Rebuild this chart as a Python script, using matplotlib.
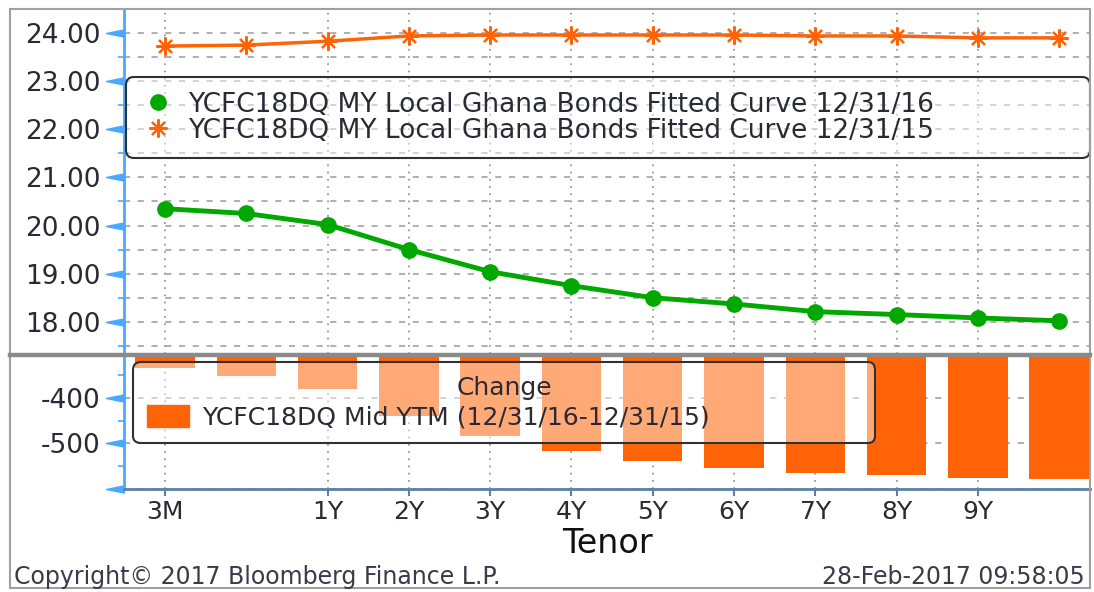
import numpy as np
import matplotlib.pyplot as plt
from matplotlib.lines import Line2D
from matplotlib.patches import Rectangle, Patch
from matplotlib.path import Path
from matplotlib.ticker import MultipleLocator, FixedLocator

# === Data ===
tenors = ['3M', '6M', '1Y', '2Y', '3Y', '4Y', '5Y', '6Y', '7Y', '8Y', '9Y', '10Y']
shown_labels = ['3M', '1Y', '2Y', '3Y', '4Y', '5Y', '6Y', '7Y', '8Y', '9Y']
curve_2016 = [20.35, 20.25, 20.02, 19.50, 19.04, 18.75, 18.50, 18.37, 18.21, 18.15, 18.08, 18.02]
curve_2015 = [23.73, 23.75, 23.83, 23.94, 23.96, 23.96, 23.96, 23.96, 23.94, 23.94, 23.90, 23.90]
change_bp = [-335, -351, -380, -440, -484, -517, -538, -553, -565, -569, -575, -578]

label_2016 = 'YCFC18DQ MY Local Ghana Bonds Fitted Curve 12/31/16'
label_2015 = 'YCFC18DQ MY Local Ghana Bonds Fitted Curve 12/31/15'
label_change = 'YCFC18DQ Mid YTM (12/31/16-12/31/15)'

# === Style ===
W, H = 1094, 592
GREEN = '#00a800'
ORANGE = '#ff6308'
BLUE = '#4aa8ff'
SLATE = '#5b7fa8'
GRID = '#9a9a9a'
TXT = '#2a2a36'
plt.rcParams['font.family'] = 'DejaVu Sans'

# long left-pointing triangle, base sitting on the spine
tri = Path([(0, -0.2), (-1, 0), (0, 0.2), (0, -0.2)],
           [Path.MOVETO, Path.LINETO, Path.LINETO, Path.CLOSEPOLY])


def px(x0, y0, w, h):
    # pixel box (from top-left) -> figure fraction rect
    return [x0 / W, 1 - (y0 + h) / H, w / W, h / H]


def style_yaxis(ax):
    for side in ['top', 'right', 'bottom']:
        ax.spines[side].set_visible(False)
    ax.spines['left'].set_color(BLUE)
    ax.spines['left'].set_linewidth(2)
    ax.tick_params(axis='y', which='major', length=13, width=1, pad=4,
                   colors=BLUE, labelcolor=TXT, labelsize=19)
    ax.tick_params(axis='y', which='minor', length=4, width=1.2, colors=BLUE)
    for t in ax.yaxis.get_major_ticks():
        t.tick1line.set_marker(tri)
        t.tick1line.set_markersize(26)
        t.tick1line.set_markerfacecolor(BLUE)
        t.tick1line.set_markeredgecolor(BLUE)


fig = plt.figure(figsize=(W / 100, H / 100), dpi=100)
x = np.arange(len(tenors))
xlim = (-0.505, 11.38)
xt = [tenors.index(t) for t in shown_labels]

# === Top panel: fitted curves ===
ax1 = fig.add_axes(px(124, 9, 966, 345))
ax1.plot(x, curve_2015, color=ORANGE, lw=2.5, marker=(8, 2, 0), ms=13, mew=1.6, zorder=3)
ax1.plot(x, curve_2016, color=GREEN, lw=3.5, marker='o', ms=11, zorder=3)
ax1.set_xlim(*xlim)
ax1.set_ylim(17.33, 24.5)
ax1.yaxis.set_major_locator(FixedLocator([18, 19, 20, 21, 22, 23, 24]))
ax1.yaxis.set_minor_locator(MultipleLocator(0.5))
ax1.set_yticklabels([f'{v:.2f}' for v in [18, 19, 20, 21, 22, 23, 24]])
ax1.set_xticks(xt)
ax1.tick_params(axis='x', length=0, labelbottom=False)
ax1.grid(True, axis='y', which='both', color=GRID, ls=(0, (4, 5)), lw=1.1)
ax1.grid(True, axis='x', color=GRID, ls=(0, (1, 3)), lw=1.3)
ax1.set_axisbelow(True)
style_yaxis(ax1)

handles = [Line2D([], [], ls='none', marker='o', color=GREEN, ms=11),
           Line2D([], [], ls='none', marker=(8, 2, 0), color=ORANGE, ms=13, mew=1.6)]
leg1 = ax1.legend(handles, [label_2016, label_2015], loc='upper left', mode='expand',
                  bbox_to_anchor=(126 / W, 1 - 155 / H, 964 / W, 78 / H),
                  bbox_transform=fig.transFigure, borderaxespad=0, fontsize=19,
                  handlelength=1.3, handletextpad=0.5, labelspacing=0.0,
                  borderpad=0.55, fancybox=True)
for t in leg1.get_texts():
    t.set_color(TXT)

# === Bottom panel: change in bp ===
ax2 = fig.add_axes(px(124, 356, 966, 133))
ax2.bar(x, change_bp, width=0.73, color=ORANGE, zorder=2)
ax2.set_xlim(*xlim)
ax2.set_ylim(-600, -308)
ax2.yaxis.set_major_locator(FixedLocator([-600, -500, -400]))
ax2.yaxis.set_minor_locator(FixedLocator([-550, -450, -350]))
ax2.set_yticklabels(['', '-500', '-400'])
ax2.set_xticks(xt)
ax2.set_xticklabels(shown_labels)
ax2.grid(True, axis='y', which='major', color=GRID, ls=(0, (4, 5)), lw=1.1)
ax2.grid(True, axis='x', color=GRID, ls=(0, (1, 3)), lw=1.3)
ax2.set_axisbelow(True)
style_yaxis(ax2)
ax2.spines['bottom'].set_visible(True)
ax2.spines['bottom'].set_color(SLATE)
ax2.spines['bottom'].set_linewidth(2)
ax2.tick_params(axis='x', length=5, width=1.5, colors=SLATE, labelcolor=TXT,
                labelsize=18, pad=3)
ax2.set_xlabel('Tenor', fontsize=24, color='#111111', labelpad=2)

leg2 = ax2.legend([Patch(color=ORANGE)], [label_change], title='Change',
                  loc='upper left', mode='expand',
                  bbox_to_anchor=(133 / W, 1 - 443 / H, 742 / W, 81 / H),
                  bbox_transform=fig.transFigure, borderaxespad=0, fontsize=18,
                  title_fontsize=18, handlelength=1.7, handleheight=1.0,
                  handletextpad=0.5, borderpad=0.55, labelspacing=0.2, fancybox=True)
leg2.get_title().set_color(TXT)
for t in leg2.get_texts():
    t.set_color(TXT)

for leg in (leg1, leg2):
    fr = leg.get_frame()
    fr.set_alpha(None)
    fr.set_facecolor((1, 1, 1, 0.45))
    fr.set_edgecolor('#303030')
    fr.set_linewidth(1.5)
    fr.set_boxstyle('round,pad=0,rounding_size=0.3')

# separator between panels
fig.add_artist(Line2D([10 / W, 1090 / W], [1 - 354.5 / H] * 2, color='#8a8a8a', lw=3.2))

# window frame
fig.add_artist(Rectangle((10 / W, 1 - 588 / H), 1080 / W, 579 / H, fill=False,
                         ec='#a0a0a0', lw=1.5))

fig.text(14 / W, 1 - 577 / H, 'Copyright\u00a9 2017 Bloomberg Finance L.P.',
         fontsize=17, color='#3a3a4a', va='center', ha='left')
fig.text(1085 / W, 1 - 577 / H, '28-Feb-2017 09:58:05',
         fontsize=17, color='#3a3a4a', va='center', ha='right')

fig.savefig('out.png', dpi=100, facecolor='white')
